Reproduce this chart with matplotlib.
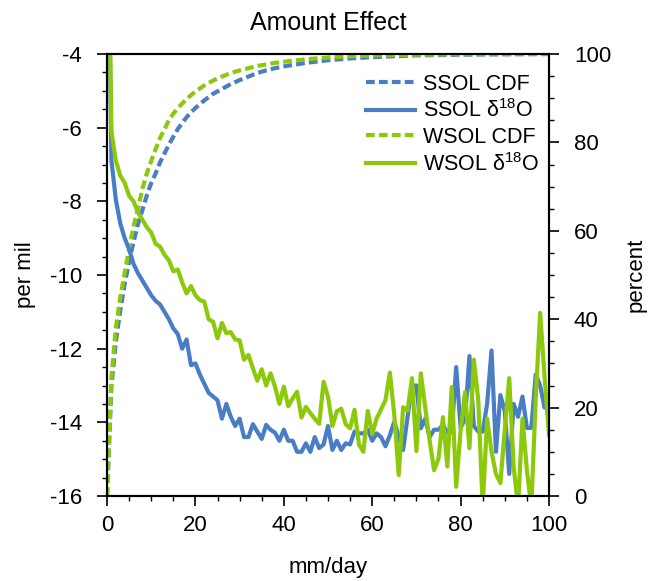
import numpy as np
import matplotlib
matplotlib.use("Agg")
import matplotlib.pyplot as plt

plt.rcParams['font.family'] = ['Liberation Sans', 'DejaVu Sans']
plt.rcParams['mathtext.fontset'] = 'custom'
plt.rcParams['mathtext.rm'] = 'Liberation Sans'
plt.rcParams['axes.unicode_minus'] = False

# rainfall intensity bins (mm/day)
rain = np.arange(0, 101)

# isotope ratio vs rain rate (per mil)
ssol_d18o = [2.0, -6.9, -7.96, -8.6, -9.0, -9.3, -9.7, -9.95, -10.15, -10.35,
             -10.55, -10.7, -10.8, -11.0, -11.2, -11.45, -11.6, -12.0, -11.75, -12.45,
             -12.4, -12.7, -12.95, -13.2, -13.3, -13.4, -13.9, -13.5, -13.85, -14.1,
             -13.9, -14.4, -14.4, -14.05, -14.25, -14.45, -14.07, -14.2, -14.28, -14.5,
             -14.2, -14.5, -14.5, -14.8, -14.8, -14.57, -14.8, -14.4, -14.7, -14.6,
             -14.1, -14.75, -14.5, -14.75, -14.57, -14.6, -14.25, -14.3, -14.3, -14.2,
             -14.5, -14.3, -14.4, -14.65, -14.35, -13.98, -14.4, -14.75, -13.85, -13.0,
             -13.0, -14.16, -13.9, -14.4, -14.2, -14.2, -14.07, -14.28, -14.25, -12.5,
             -14.15, -13.9, -12.2, -14.1, -14.25, -14.25, -13.5, -12.05, -14.8, -13.26,
             -13.7, -15.4, -13.5, -13.85, -13.3, -14.15, -14.15, -12.7, -13.0, -13.6,
             -13.6]

wsol_d18o = [2.0, -6.1, -6.9, -7.3, -7.5, -7.85, -8.0, -8.3, -8.5, -8.7,
             -8.85, -9.15, -9.23, -9.45, -9.6, -9.9, -9.85, -10.2, -10.5, -10.3,
             -10.55, -10.68, -10.72, -11.2, -11.27, -11.72, -11.3, -11.58, -11.55, -11.75,
             -11.77, -12.3, -12.17, -12.53, -12.87, -12.56, -13.0, -12.67, -13.03, -13.5,
             -13.03, -13.56, -13.35, -13.17, -13.87, -13.58, -13.75, -13.9, -14.04, -12.9,
             -13.3, -14.1, -13.7, -13.63, -14.05, -14.16, -13.66, -14.6, -14.8, -13.69,
             -14.32, -13.9, -13.65, -13.4, -12.65, -13.8, -15.43, -13.59, -13.68, -12.8,
             -14.78, -12.67, -13.6, -14.5, -15.3, -14.98, -13.86, -15.2, -13.04, -15.75,
             -14.22, -13.18, -14.7, -12.3, -13.4, -16.3, -13.9, -14.8, -15.4, -15.65,
             -14.2, -12.8, -15.2, -16.3, -13.9, -15.3, -16.3, -13.35, -11.03, -12.76,
             -14.35]

# cumulative distribution (percent)
ssol_cdf_x = [0, 1, 2, 3, 4, 5, 6, 7, 8, 9, 10, 11, 12, 13, 14, 15, 16, 17, 18, 19,
              20, 22, 24, 26, 28, 30, 32, 34, 36, 38, 40, 45, 50, 55, 60, 65, 70, 80, 90, 100]
ssol_cdf = [0, 25, 35, 42, 48, 53, 57.5, 61.5, 64.7, 68, 70.8, 73, 75.5, 77.5, 79.5, 81.3,
            83, 84.4, 85.7, 86.8, 87.8, 89.5, 91, 92.1, 93.2, 94.1, 94.9, 95.7, 96.3, 96.8,
            97.2, 98.0, 98.6, 99.0, 99.3, 99.5, 99.7, 99.85, 99.95, 100]

wsol_cdf_x = [0, 1, 2, 3, 4, 5, 6, 7, 8, 9, 10, 11, 12, 13, 14, 15, 16, 17, 18, 19,
              20, 22, 24, 26, 28, 30, 34, 38, 42, 46, 50, 55, 60, 70, 80, 100]
wsol_cdf = [0, 27, 38, 45, 50.5, 56, 61, 65, 69.5, 73, 75.8, 78.5, 81, 83, 85, 86.5,
            87.7, 88.8, 89.8, 90.7, 91.5, 92.9, 94, 94.9, 95.7, 96.3, 97.3, 98, 98.5, 98.9,
            99.2, 99.5, 99.7, 99.85, 99.95, 100]

blue = '#4a7ec4'
green = '#8cc90a'
dash = (0, (2.1, 1.0))

fig = plt.figure(figsize=(6.49, 5.81), dpi=100)
ax = fig.add_axes([0.1649, 0.1463, 0.681, 0.7607])
ax2 = ax.twinx()

l2, = ax.plot(rain, ssol_d18o, color=blue, lw=3.0, label=r'SSOL δ$^{\mathregular{18}}$O')
l4, = ax.plot(rain, wsol_d18o, color=green, lw=3.0, label=r'WSOL δ$^{\mathregular{18}}$O')
l1, = ax2.plot(ssol_cdf_x, ssol_cdf, color=blue, lw=3.0, ls=dash, label='SSOL CDF')
l3, = ax2.plot(wsol_cdf_x, wsol_cdf, color=green, lw=3.0, ls=dash, label='WSOL CDF')
# isotope lines above the cdf lines
ax.set_zorder(ax2.get_zorder() + 1)
ax.patch.set_visible(False)

ax.set_xlim(0, 100)
ax.set_ylim(-16, -4)
ax2.set_ylim(0, 100)
ax.set_xticks(np.arange(0, 101, 20))
ax.set_xticks(np.arange(0, 101, 5), minor=True)
ax.set_yticks(np.arange(-16, -3, 2))
ax.set_yticks(np.arange(-16, -3.9, 0.5), minor=True)
ax2.set_yticks(np.arange(0, 101, 20))
ax2.set_yticks(np.arange(0, 101, 5), minor=True)

for a in (ax, ax2):
    a.tick_params(which='major', direction='out', length=7, width=1.2, labelsize=16, pad=11)
    a.tick_params(which='minor', direction='out', length=3.6, width=1.0)
    for s in a.spines.values():
        s.set_linewidth(1.5)
ax.tick_params(axis='x', which='major', pad=7)

ax.set_xlabel('mm/day', fontsize=16, labelpad=15)
ax.set_ylabel('per mil', fontsize=16, labelpad=10)
ax2.set_ylabel('percent', fontsize=16, labelpad=10)
ax.set_title('Amount Effect', fontsize=18, pad=17)

ax.legend([l1, l2, l3, l4], [l.get_label() for l in (l1, l2, l3, l4)],
          loc='upper right', frameon=False, fontsize=15.5, handlelength=2.3,
          handletextpad=0.35, labelspacing=0.22, borderaxespad=0.3,
          bbox_to_anchor=(1.012, 0.99))

plt.savefig('out.png', dpi=100)
